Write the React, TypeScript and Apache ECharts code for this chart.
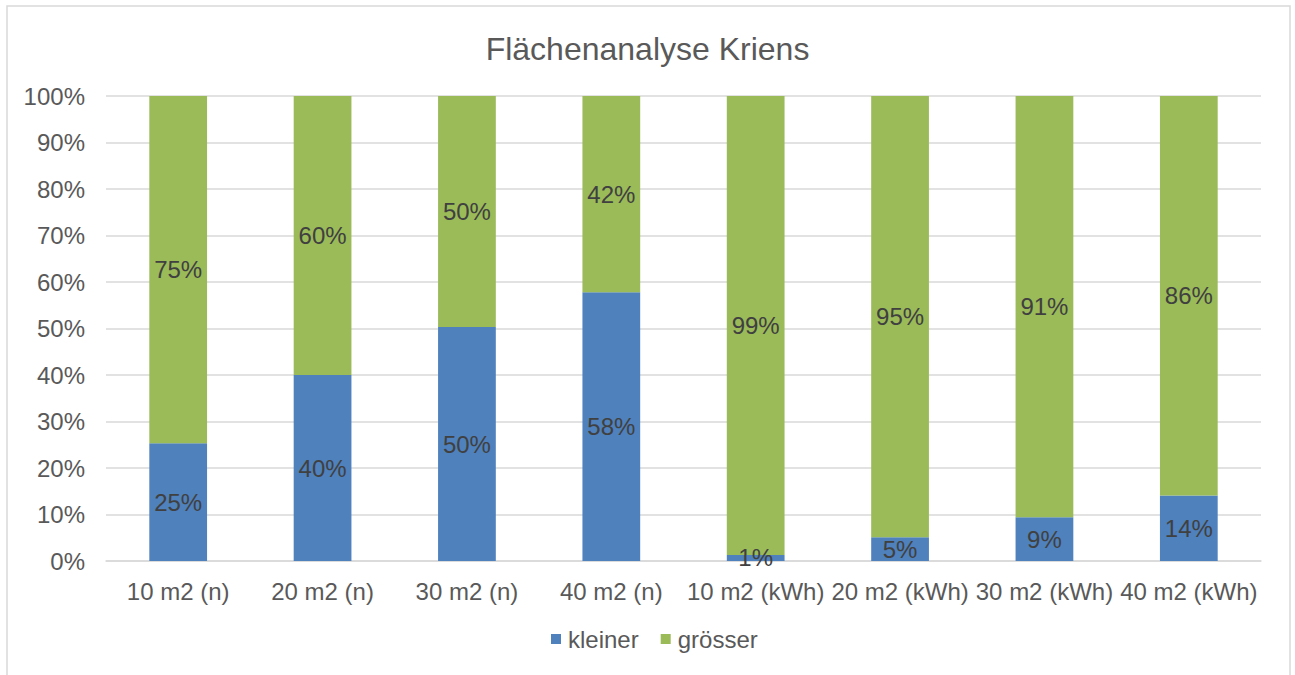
import React, { useEffect, useRef } from "react";
import * as echarts from "echarts";

const categories = [
  "10 m2 (n)",
  "20 m2 (n)",
  "30 m2 (n)",
  "40 m2 (n)",
  "10 m2 (kWh)",
  "20 m2 (kWh)",
  "30 m2 (kWh)",
  "40 m2 (kWh)",
];
const kleiner = [25.3, 40.0, 50.3, 57.8, 1.3, 5.1, 9.4, 14.1];
const groesser = [74.7, 60.0, 49.7, 42.2, 98.7, 94.9, 90.6, 85.9];
const seriesNames = ["kleiner", "grösser"];
const titleText = "Flächenanalyse Kriens";

const FONT = "'Liberation Sans', Arial, sans-serif";

export default function App() {
  const ref = useRef<HTMLDivElement>(null);
  useEffect(() => {
    if (!ref.current) return;
    const chart = echarts.init(ref.current, undefined, { renderer: "svg" });
    const labelCfg = {
      show: true,
      position: "inside",
      color: "#404040",
      fontSize: 24,
      fontFamily: FONT,
      formatter: (p: any) => Math.round(p.value) + "%",
    };
    chart.setOption({
      animation: false,
      backgroundColor: "#ffffff",
      title: {
        text: titleText,
        left: "center",
        top: 28,
        textStyle: { color: "#595959", fontSize: 32, fontWeight: "normal", fontFamily: FONT },
      },
      graphic: [
        {
          type: "rect",
          shape: { x: 7, y: 6, width: 1283, height: 690 },
          style: { fill: "none", stroke: "#d9d9d9", lineWidth: 1.5 },
          silent: true,
        },
      ],
      legend: {
        bottom: 19,
        left: 546,
        itemWidth: 10,
        itemHeight: 10,
        itemGap: 22,
        icon: "rect",
        textStyle: { color: "#595959", fontSize: 24, fontFamily: FONT, padding: [0, 0, 0, 2] },
        data: seriesNames,
      },
      grid: { left: 106, right: 34, top: 96, bottom: 114, containLabel: false },
      xAxis: {
        type: "category",
        data: categories,
        axisLine: { lineStyle: { color: "#d9d9d9", width: 1.5 } },
        axisTick: { show: false },
        axisLabel: { color: "#595959", fontSize: 24, fontFamily: FONT, margin: 18, interval: 0 },
      },
      yAxis: {
        type: "value",
        min: 0,
        max: 100,
        interval: 10,
        axisLine: { show: false },
        axisTick: { show: false },
        splitLine: { lineStyle: { color: "#d9d9d9", width: 1.5 } },
        axisLabel: {
          color: "#595959",
          fontSize: 24,
          fontFamily: FONT,
          margin: 21,
          formatter: (v: number) => v + "%",
        },
      },
      series: [
        {
          name: seriesNames[0],
          type: "bar",
          stack: "total",
          data: kleiner,
          barWidth: "40%",
          itemStyle: { color: "#4F81BD" },
          label: labelCfg,
        },
        {
          name: seriesNames[1],
          type: "bar",
          stack: "total",
          data: groesser,
          barWidth: "40%",
          itemStyle: { color: "#9BBB59" },
          label: labelCfg,
        },
      ],
    });
    return () => chart.dispose();
  }, []);
  return (
    <div
      ref={ref}
      style={{ position: "absolute", left: 0, top: 0, width: 1295, height: 675 }}
    />
  );
}
